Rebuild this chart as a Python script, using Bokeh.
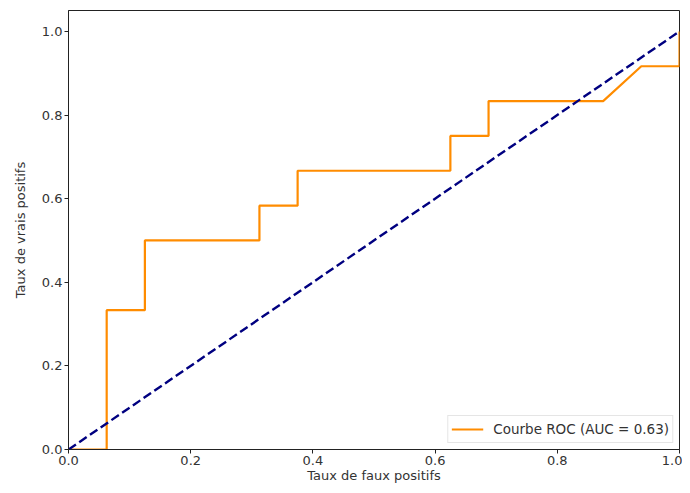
from bokeh.plotting import figure
from bokeh.models import FixedTicker, PrintfTickFormatter, Range1d
from bokeh.embed import file_html
from bokeh.resources import INLINE

# ROC data
fpr = [0.0, 0.0625, 0.0625, 0.125, 0.125, 0.3125, 0.3125, 0.375, 0.375,
       0.625, 0.625, 0.6875, 0.6875, 0.875, 0.9375, 1.0, 1.0]
tpr = [0.0, 0.0, 0.3333, 0.3333, 0.5, 0.5, 0.5833, 0.5833, 0.6667,
       0.6667, 0.75, 0.75, 0.8333, 0.8333, 0.9167, 0.9167, 1.0]
diag_x = [0.0, 1.0]
diag_y = [0.0, 1.0]
ticks = [0.0, 0.2, 0.4, 0.6, 0.8, 1.0]
auc_label = "Courbe ROC (AUC = 0.63)"
x_label = "Taux de faux positifs"
y_label = "Taux de vrais positifs"

FONT = "DejaVu Sans"

p = figure(width=682, height=485, output_backend="svg", toolbar_location=None,
           x_range=Range1d(0, 1), y_range=Range1d(0, 1.05),
           min_border_left=68, min_border_right=3, min_border_top=10, min_border_bottom=10)

p.line(fpr, tpr, line_color="#ff8c00", line_width=2.2, legend_label=auc_label)
p.line(diag_x, diag_y, line_color="#000080", line_width=2.4, line_dash="9 4")

p.xgrid.visible = False
p.ygrid.visible = False
p.outline_line_color = "#222222"
p.outline_line_width = 1
p.outline_line_alpha = 1

for ax in (p.xaxis[0], p.yaxis[0]):
    ax.ticker = FixedTicker(ticks=ticks)
    ax.formatter = PrintfTickFormatter(format="%.1f")
    ax.minor_tick_line_color = None
    ax.major_tick_in = 0
    ax.major_tick_out = 4
    ax.major_tick_line_color = "#222222"
    ax.axis_line_color = "#222222"
    ax.major_label_text_font = FONT
    ax.major_label_text_font_size = "13px"
    ax.major_label_text_color = "#333333"
    ax.axis_label_text_font = FONT
    ax.axis_label_text_font_size = "13px"
    ax.axis_label_text_font_style = "normal"
    ax.axis_label_text_color = "#333333"
    ax.major_label_standoff = 2

p.xaxis.axis_label = x_label
p.yaxis.axis_label = y_label
p.xaxis.axis_label_standoff = 0
p.yaxis.axis_label_standoff = 11

p.legend.location = "bottom_right"
p.legend.label_text_font = FONT
p.legend.label_text_font_size = "13.5px"
p.legend.label_text_color = "#333333"
p.legend.glyph_width = 32
p.legend.border_line_color = "#cccccc"
p.legend.margin = 6
p.legend.padding = 3
p.legend.spacing = 0
p.legend.label_standoff = 10

open("out.html", "w").write(file_html(p, INLINE))
